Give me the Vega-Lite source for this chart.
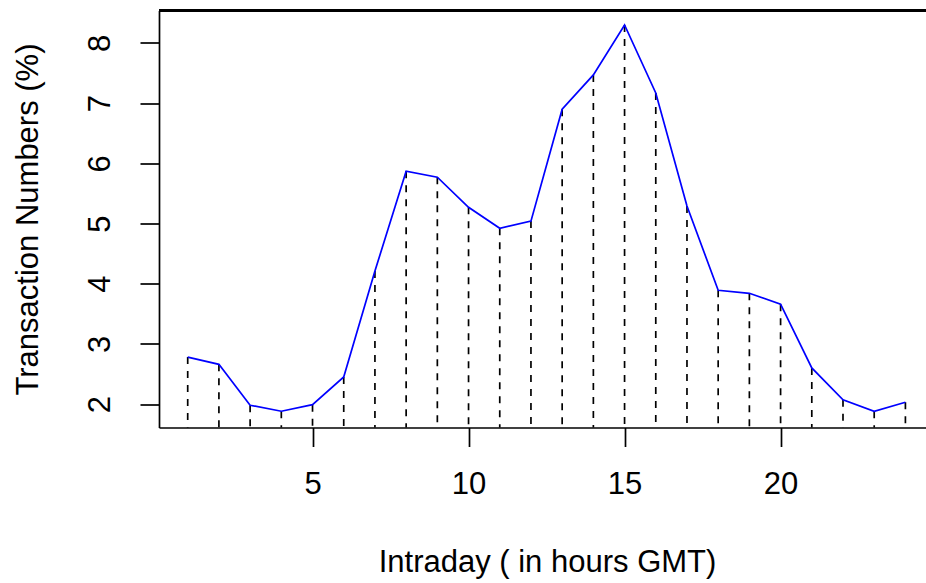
{
  "$schema": "https://vega.github.io/schema/vega-lite/v6.json",
  "autosize": "none",
  "width": 767,
  "height": 417,
  "padding": {"left": 159, "top": 10.5, "right": 0, "bottom": 155.5},
  "background": "white",
  "config": {
    "view": {"stroke": null},
    "font": "Liberation Sans",
    "axis": {"grid": false, "domainColor": "black", "tickColor": "black", "labelColor": "black", "titleColor": "black", "titleFontWeight": "normal", "labelFont": "Liberation Sans", "titleFont": "Liberation Sans"}
  },
  "data": {
    "values": [
      {"hour": 1, "pct": 2.78},
      {"hour": 2, "pct": 2.66},
      {"hour": 3, "pct": 1.98},
      {"hour": 4, "pct": 1.88},
      {"hour": 5, "pct": 1.99},
      {"hour": 6, "pct": 2.45},
      {"hour": 7, "pct": 4.21},
      {"hour": 8, "pct": 5.87},
      {"hour": 9, "pct": 5.77},
      {"hour": 10, "pct": 5.27},
      {"hour": 11, "pct": 4.92},
      {"hour": 12, "pct": 5.04},
      {"hour": 13, "pct": 6.9},
      {"hour": 14, "pct": 7.47},
      {"hour": 15, "pct": 8.3},
      {"hour": 16, "pct": 7.17},
      {"hour": 17, "pct": 5.29},
      {"hour": 18, "pct": 3.89},
      {"hour": 19, "pct": 3.84},
      {"hour": 20, "pct": 3.66},
      {"hour": 21, "pct": 2.6},
      {"hour": 22, "pct": 2.07},
      {"hour": 23, "pct": 1.88},
      {"hour": 24, "pct": 2.03}
    ]
  },
  "encoding": {
    "x": {
      "field": "hour", "type": "quantitative",
      "scale": {"domain": [0.08, 24.66], "nice": false, "zero": false},
      "axis": {
        "title": "Intraday ( in hours GMT)",
        "values": [5, 10, 15, 20],
        "tickSize": 19, "tickWidth": 1.7, "domainWidth": 1.7,
        "labelFontSize": 31, "labelPadding": 38, "labelBaseline": "middle",
        "titleFontSize": 31, "titleX": 388, "titleY": 135, "titleBaseline": "middle", "titleAlign": "center"
      }
    },
    "y": {
      "field": "pct", "type": "quantitative",
      "scale": {"domain": [1.61, 8.54], "nice": false, "zero": false},
      "axis": {
        "title": "Transaction Numbers (%)",
        "values": [2, 3, 4, 5, 6, 7, 8],
        "tickSize": 19, "tickWidth": 1.7, "domainWidth": 1.7,
        "labelFontSize": 31, "labelAngle": -90, "labelAlign": "center", "labelBaseline": "middle", "labelPadding": 40,
        "titleFontSize": 31, "titleX": -131, "titleY": 208.5, "titleBaseline": "middle", "titleAlign": "center", "titleAngle": -90
      }
    }
  },
  "layer": [
    {
      "mark": {"type": "rule", "strokeDash": [7, 7], "strokeWidth": 1.7, "color": "black", "clip": true},
      "encoding": {"y2": {"datum": 0}}
    },
    {
      "mark": {"type": "line", "color": "#0000FF", "strokeWidth": 1.7}
    },
    {
      "mark": {"type": "rule", "color": "black", "strokeWidth": 1.7},
      "encoding": {"x": {"value": 0}, "x2": {"value": 767}, "y": {"datum": 8.54}}
    }
  ]
}
